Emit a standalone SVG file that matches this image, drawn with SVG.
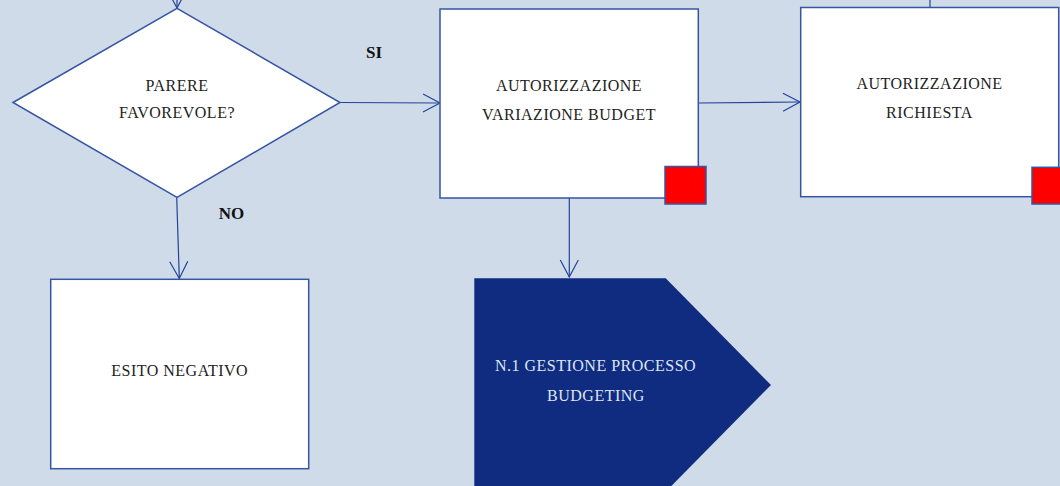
<svg xmlns="http://www.w3.org/2000/svg" width="1060" height="486" viewBox="0 0 1060 486">
<style>
.bg{fill:#cfdbe8}
.box{fill:#ffffff;stroke:#3556a3;stroke-width:1.5}
.red{fill:#ff0000;stroke:#3556a3;stroke-width:1.5}
.con{fill:none;stroke:#22449a;stroke-width:1.2}
.t{font-family:"Liberation Serif","DejaVu Serif",serif;font-size:16px;fill:#222;text-anchor:middle;letter-spacing:0.5px}
.tw{font-family:"Liberation Serif","DejaVu Serif",serif;font-size:16px;fill:#dfe6f2;text-anchor:middle;letter-spacing:0.5px}
.lab{font-family:"Liberation Serif","DejaVu Serif",serif;font-size:17px;font-weight:bold;fill:#111;text-anchor:middle}
</style>
<defs>
<marker id="arr" viewBox="0 0 20 20" refX="18" refY="10" markerWidth="20" markerHeight="20" markerUnits="userSpaceOnUse" orient="auto">
<path d="M1,1 L18,10 L1,19" fill="none" stroke="#22449a" stroke-width="1.2"/>
</marker>
</defs>
<rect class="bg" x="0" y="0" width="1060" height="486"/>
<g id="connectors">
<line class="con" x1="177" y1="-12" x2="177" y2="8" marker-end="url(#arr)"/>
<line class="con" x1="340" y1="102.5" x2="440" y2="103" marker-end="url(#arr)"/>
<line class="con" x1="698" y1="103" x2="800" y2="102" marker-end="url(#arr)"/>
<line class="con" x1="569.3" y1="198" x2="569.3" y2="277" marker-end="url(#arr)"/>
<line class="con" x1="176.7" y1="197" x2="179.3" y2="278.5" marker-end="url(#arr)"/>
<line class="con" x1="930" y1="0" x2="930" y2="7.5"/>
</g>
<g id="node-parere">
<polygon class="box" points="13,102.5 177,8.3 340,102.5 177,197.3"/>
<text class="t" x="177" y="90.5">PARERE</text>
<text class="t" x="177" y="117.5">FAVOREVOLE?</text>
</g>
<g id="label-si"><text class="lab" x="374" y="57.5">SI</text></g>
<g id="label-no"><text class="lab" x="231.5" y="218.5">NO</text></g>
<g id="node-autorizzazione-variazione">
<rect class="box" x="440" y="9" width="258.3" height="189"/>
<rect class="red" x="665" y="166.5" width="41" height="37.5"/>
<text class="t" x="569" y="91">AUTORIZZAZIONE</text>
<text class="t" x="569" y="119.5">VARIAZIONE BUDGET</text>
</g>
<g id="node-autorizzazione-richiesta">
<rect class="box" x="800.7" y="7.5" width="258" height="189.2"/>
<rect class="red" x="1032" y="167.3" width="41" height="36.7"/>
<text class="t" x="929.5" y="88.5">AUTORIZZAZIONE</text>
<text class="t" x="929.5" y="117.5">RICHIESTA</text>
</g>
<g id="node-esito-negativo">
<rect class="box" x="50.7" y="279.3" width="258" height="189.4"/>
<text class="t" x="179.7" y="375.5">ESITO NEGATIVO</text>
</g>
<g id="node-gestione-budgeting">
<polygon points="474.3,278.3 665.7,278.3 771,385 665.7,491.7 474.3,491.7" fill="#0f2c81"/>
<text class="tw" x="595.5" y="371">N.1 GESTIONE PROCESSO</text>
<text class="tw" x="596" y="400.5">BUDGETING</text>
</g>
</svg>
